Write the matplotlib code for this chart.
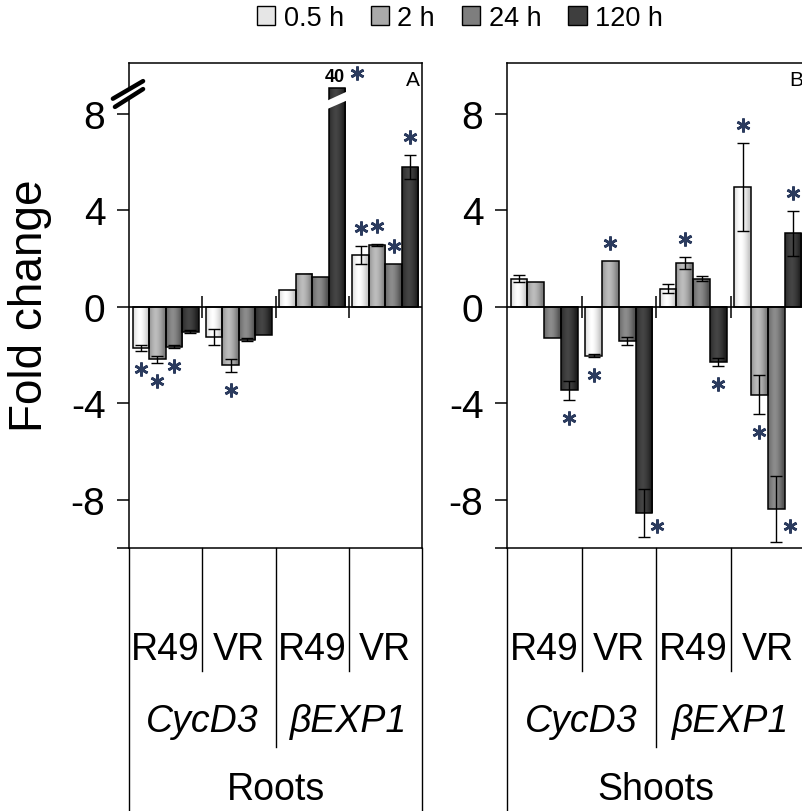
import numpy as np
import matplotlib
matplotlib.use('Agg')
import matplotlib.pyplot as plt
from matplotlib.patches import Patch, Polygon
from matplotlib.transforms import blended_transform_factory

plt.rcParams['font.family'] = ['Liberation Sans', 'DejaVu Sans']

times = ['0.5 h', '2 h', '24 h', '120 h']
lines = ['R49', 'VR', 'R49', 'VR']
genes = ['CycD3', 'βEXP1']
tissues = ['Roots', 'Shoots']

# fold change per time point, groups: CycD3 R49, CycD3 VR, bEXP1 R49, bEXP1 VR
roots_05 = [-1.70, -1.24, 0.68, 2.13]
roots_2 = [-2.18, -2.43, 1.37, 2.55]
roots_24 = [-1.65, -1.36, 1.23, 1.76]
roots_120 = [-1.03, -1.16, 40.0, 5.79]

roots_05_err = [0.12, 0.33, 0.0, 0.37]
roots_2_err = [0.15, 0.27, 0.0, 0.05]
roots_24_err = [0.05, 0.05, 0.0, 0.0]
roots_120_err = [0.05, 0.0, 0.0, 0.48]

# 1 = significant, 2 = significant, star drawn beside the bar
roots_05_sig = [1, 0, 0, 1]
roots_2_sig = [1, 1, 0, 1]
roots_24_sig = [1, 0, 0, 1]
roots_120_sig = [0, 0, 1, 1]

shoots_05 = [1.16, -2.03, 0.75, 4.96]
shoots_2 = [1.02, 1.89, 1.82, -3.64]
shoots_24 = [-1.28, -1.41, 1.16, -8.40]
shoots_120 = [-3.47, -8.55, -2.30, 3.05]

shoots_05_err = [0.14, 0.05, 0.18, 1.81]
shoots_2_err = [0.0, 0.0, 0.25, 0.82]
shoots_24_err = [0.0, 0.17, 0.10, 1.37]
shoots_120_err = [0.39, 1.00, 0.17, 0.93]

shoots_05_sig = [0, 1, 0, 1]
shoots_2_sig = [0, 1, 1, 1]
shoots_24_sig = [0, 0, 0, 2]
shoots_120_sig = [1, 2, 1, 1]

YMIN, YMAX = -10, 10.1
BREAK_TOP = 9.05          # bars above this are cut by the axis break

shade_edge = [0.78, 0.50, 0.33, 0.12]
shade_mid = [1.00, 0.74, 0.55, 0.27]
star_color = '#2b3b5e'

W, H = 802, 812
fig = plt.figure(figsize=(W / 100, H / 100), dpi=100)


def px_axes(x0, y_top, x1, y_bot):
    return fig.add_axes([x0 / W, 1 - y_bot / H, (x1 - x0) / W, (y_bot - y_top) / H])


def gradient_fill(ax, x, bw, h, k):
    t = np.linspace(-1, 1, 40)
    s = shade_edge[k] + (shade_mid[k] - shade_edge[k]) * (1 - np.abs(t + 0.2) ** 1.6).clip(0)
    img = np.repeat(s[None, :, None], 3, axis=2)
    ax.imshow(img, extent=(x - bw / 2, x + bw / 2, min(0, h), max(0, h)),
              aspect='auto', interpolation='bilinear', vmin=0, vmax=1, zorder=2)


def star(ax, x, y):
    ax.plot([x], [y], marker=(6, 2, 0), ms=10, mew=1.9, color=star_color,
            ls='none', zorder=6, clip_on=False)


def draw_panel(ax, series, errs, sigs, tissue, letter):
    xs = np.arange(4)
    bw = 0.225
    offs = (np.arange(4) - 1.5) * bw
    for k in range(4):
        for g in range(4):
            v = series[k][g]
            e = errs[k][g]
            x = xs[g] + offs[k]
            h = min(v, BREAK_TOP)
            gradient_fill(ax, x, bw, h, k)
            ax.bar(x, h, bw, fill=False, edgecolor='black', lw=1.1, zorder=3)
            if e > 0:
                ax.errorbar(x, h, yerr=e, fmt='none', ecolor='black',
                            elinewidth=1.0, capsize=4, capthick=1.0, zorder=4)
            if v > BREAK_TOP:
                x0, x1 = x - bw / 2 - 0.02, x + bw / 2 + 0.02
                ax.add_patch(Polygon([(x0, h - 0.86), (x1, h - 0.51),
                                      (x1, h - 0.14), (x0, h - 0.51)],
                                     facecolor='white', edgecolor='none', zorder=5))
                ax.text(x - 0.03, h + 0.12, f'{v:.0f}', ha='center', va='bottom',
                        fontsize=13, fontweight='bold', zorder=6)
                if sigs[k][g]:
                    star(ax, x + 0.28, h + 0.65)
                continue
            sig = sigs[k][g]
            if sig == 1:
                if v >= 0:
                    star(ax, x, v + e + 0.75)
                else:
                    star(ax, x, v - e - 0.75)
            elif sig == 2:
                star(ax, x + 0.18, YMIN + 0.9)

    ax.axhline(0, color='black', lw=1.2, zorder=3.5)
    ax.vlines([0.5, 1.5, 2.5], -0.48, 0.43, color='black', lw=1.1, zorder=3.5)

    ax.set_xlim(-0.5, 3.5)
    ax.set_ylim(YMIN, YMAX)
    ax.set_xticks([])
    ax.set_yticks([-10, -8, -4, 0, 4, 8])
    ax.set_yticklabels(['', '-8', '-4', '0', '4', '8'])
    ax.tick_params(axis='y', direction='out', length=9, width=1.1,
                   labelsize=28, pad=8)
    for sp in ax.spines.values():
        sp.set_linewidth(1.1)

    # category table under the plot
    tr = blended_transform_factory(ax.transData, ax.transAxes)
    for xv, y_end in [(-0.5, -0.56), (3.5, -0.56), (0.5, -0.254),
                      (2.5, -0.254), (1.5, -0.41)]:
        ax.plot([xv, xv], [0, y_end], color='black', lw=1.0,
                transform=tr, clip_on=False)
    for g in range(4):
        ax.text(g, -0.208, lines[g], transform=tr, ha='center', va='center',
                fontsize=27)
    for i, gene in enumerate(genes):
        ax.text(0.5 + 2 * i, -0.357, gene, transform=tr, ha='center',
                va='center', fontsize=27, style='italic')
    ax.text(1.5, -0.497, tissue, transform=tr, ha='center', va='center',
            fontsize=27)
    ax.text(0.97, 0.966, letter, transform=ax.transAxes, ha='center',
            va='center', fontsize=15)


axA = px_axes(129, 64, 422, 549)
axB = px_axes(507, 64, 805, 549)

draw_panel(axA,
           [roots_05, roots_2, roots_24, roots_120],
           [roots_05_err, roots_2_err, roots_24_err, roots_120_err],
           [roots_05_sig, roots_2_sig, roots_24_sig, roots_120_sig],
           tissues[0], 'A')
draw_panel(axB,
           [shoots_05, shoots_2, shoots_24, shoots_120],
           [shoots_05_err, shoots_2_err, shoots_24_err, shoots_120_err],
           [shoots_05_sig, shoots_2_sig, shoots_24_sig, shoots_120_sig],
           tissues[1], 'B')

# axis break marks on the roots y axis
tb = blended_transform_factory(axA.transAxes, axA.transData)
axA.plot([-0.05, 0.045], [8.45, 9.15], color='white', lw=5, transform=tb,
         clip_on=False, zorder=7)
axA.plot([-0.055, 0.048], [8.62, 9.35], color='black', lw=3.2, transform=tb,
         clip_on=False, zorder=8, solid_capstyle='round')
axA.plot([-0.048, 0.048], [8.28, 9.02], color='black', lw=3.2, transform=tb,
         clip_on=False, zorder=8, solid_capstyle='round')

fig.text(30 / W, 1 - 306 / H, 'Fold change', rotation=90, ha='center',
         va='center', fontsize=33)

handles = [Patch(facecolor=(shade_mid[k] * 0.9,) * 3, edgecolor='black', lw=1.0)
           for k in range(4)]
fig.legend(handles, times, loc='upper left', bbox_to_anchor=(257 / W, 1 - 6 / H),
           ncol=4, frameon=False, fontsize=19.5, handlelength=0.68,
           handleheight=0.68, handletextpad=0.3, columnspacing=1.0,
           borderpad=0, borderaxespad=0)

fig.savefig('out.png', dpi=100)
